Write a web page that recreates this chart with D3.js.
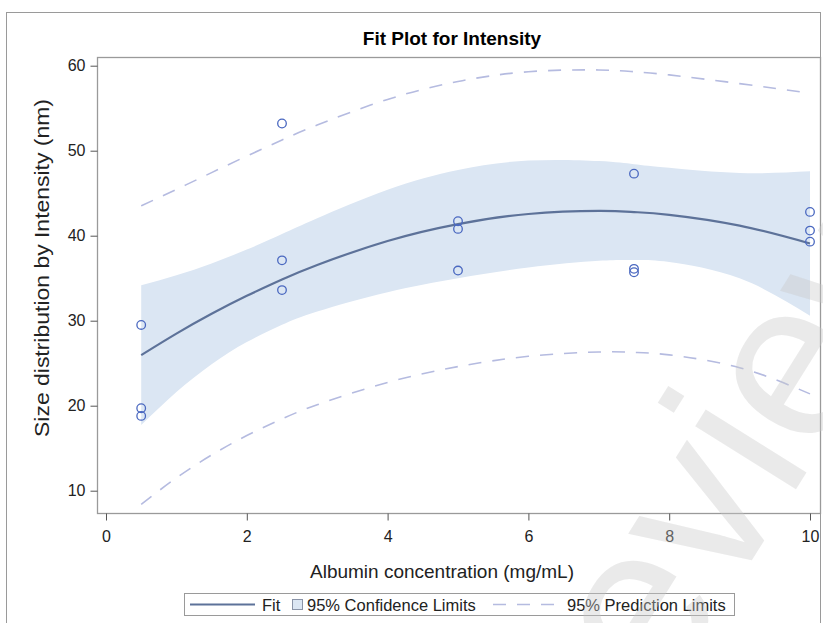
<!DOCTYPE html>
<html><head><meta charset="utf-8">
<script src="https://cdn.jsdelivr.net/npm/d3@7"></script>
<style>body{margin:0;background:#fff}svg{display:block}text{font-family:"Liberation Sans",Arial,sans-serif}</style>
</head><body><svg id="c" width="823" height="623"></svg>
<script>
// observed data
const xObs = [0.5,0.5,0.5,2.5,2.5,2.5,5,5,5,7.5,7.5,7.5,10,10,10];
const yObs = [29.5,19.7,18.8,53.2,37.1,33.6,41.7,40.8,35.9,47.3,36.1,35.7,42.8,40.6,39.3];
// fit and limits
const xGrid   = [0.5,1,1.5,2,2.5,3,4,5,6,7,7.5,8,9,10];
const fit     = [25.95,28.48,30.81,32.93,34.85,36.56,39.38,41.37,42.55,42.91,42.78,42.45,41.18,39.08];
const clLower = [17.72,21.61,24.88,27.49,29.51,31.08,33.35,35.0,36.26,37.05,37.14,36.91,34.98,30.59];
const clUpper = [34.18,35.35,36.74,38.37,40.19,42.05,45.41,47.74,48.84,48.78,48.42,47.99,47.38,47.57];
const plLower = [8.39,11.51,14.2,16.49,18.44,20.11,22.74,24.6,25.81,26.32,26.27,25.98,24.47,21.39];
const plUpper = [43.51,45.45,47.42,49.37,51.26,53.02,56.03,58.14,59.29,59.5,59.29,58.92,57.89,56.77];
const xTicks = [0,2,4,6,8,10];
const yTicks = [10,20,30,40,50,60];
const legendLabels = ["Fit","95% Confidence Limits","95% Prediction Limits"];

const svg = d3.select("#c");
const frame = {l:97, t:57, r:820, b:513};
const x = d3.scaleLinear().domain([0,10]).range([106,810]);
const y = d3.scaleLinear().domain([10,60]).range([490.7,65.7]);

// outer border
svg.append("rect").attr("x",6.5).attr("y",12.5).attr("width",814).attr("height",640)
  .attr("fill","none").attr("stroke","#9a9a9a").attr("stroke-width",1);

svg.append("text").attr("x",452).attr("y",45).attr("text-anchor","middle")
  .attr("font-size",19).attr("font-weight","bold").attr("fill","#000").text("Fit Plot for Intensity");

const idx = d3.range(xGrid.length);
const band = d3.area().x(i=>x(xGrid[i])).y0(i=>y(clLower[i])).y1(i=>y(clUpper[i])).curve(d3.curveNatural);
svg.append("path").attr("d",band(idx)).attr("fill","#dbe6f3");

const line = arr => d3.line().x(i=>x(xGrid[i])).y(i=>y(arr[i])).curve(d3.curveNatural)(idx);
[plLower,plUpper].forEach(a=>svg.append("path").attr("d",line(a)).attr("fill","none")
  .attr("stroke","#b5bbe0").attr("stroke-width",1.6).attr("stroke-dasharray","13,11"));
svg.append("path").attr("d",line(fit)).attr("fill","none").attr("stroke","#5d7299").attr("stroke-width",2.2);

svg.selectAll("circle.o").data(xObs).join("circle").attr("class","o")
  .attr("cx",(d,i)=>x(d)).attr("cy",(d,i)=>y(yObs[i])).attr("r",4.3)
  .attr("fill","none").attr("stroke","#4a68c0").attr("stroke-width",1.3);

// frame
svg.append("rect").attr("x",frame.l+0.5).attr("y",frame.t+0.5)
  .attr("width",frame.r-frame.l).attr("height",frame.b-frame.t)
  .attr("fill","none").attr("stroke","#9a9a9a").attr("stroke-width",1.3);

// axes
const xAxis = svg.append("g").attr("transform",`translate(0,${frame.b+0.5})`)
  .call(d3.axisBottom(x).tickValues(xTicks).tickSize(7).tickPadding(10).tickFormat(d3.format("d")));
const yAxis = svg.append("g").attr("transform",`translate(${frame.l+0.5},0)`)
  .call(d3.axisLeft(y).tickValues(yTicks).tickSize(7).tickPadding(5).tickFormat(d3.format("d")));
[xAxis,yAxis].forEach(g=>{
  g.select(".domain").remove();
  g.selectAll(".tick line").attr("stroke","#555");
  g.selectAll(".tick text").attr("font-size",16).attr("fill","#222")
    .style("font-family","'Liberation Sans',Arial,sans-serif");
});

svg.append("text").attr("x",442).attr("y",578).attr("text-anchor","middle")
  .attr("font-size",19).attr("fill","#222").text("Albumin concentration (mg/mL)");
svg.append("text").attr("transform","translate(49,268) rotate(-90)").attr("text-anchor","middle")
  .attr("font-size",20).attr("fill","#222").attr("textLength",338).attr("lengthAdjust","spacingAndGlyphs")
  .text("Size distribution by Intensity (nm)");

// legend
const lg = svg.append("g");
lg.append("rect").attr("x",184.5).attr("y",593.5).attr("width",550).attr("height",22)
  .attr("fill","#fff").attr("stroke","#9a9a9a");
lg.append("line").attr("x1",190).attr("x2",255).attr("y1",604.5).attr("y2",604.5)
  .attr("stroke","#5d7299").attr("stroke-width",2.2);
lg.append("text").attr("x",262).attr("y",610.5).attr("font-size",16.5).attr("fill","#222").text(legendLabels[0]);
lg.append("rect").attr("x",292.5).attr("y",599.5).attr("width",10).attr("height",10)
  .attr("fill","#dbe6f3").attr("stroke","#8a94a8");
lg.append("text").attr("x",307).attr("y",610.5).attr("font-size",16.5).attr("fill","#222").text(legendLabels[1]);
lg.append("line").attr("x1",493).attr("x2",558).attr("y1",604.5).attr("y2",604.5)
  .attr("stroke","#b5bbe0").attr("stroke-width",1.6).attr("stroke-dasharray","13,11");
lg.append("text").attr("x",567).attr("y",610.5).attr("font-size",16.5).attr("fill","#222").text(legendLabels[2]);

// watermark
svg.append("text").attr("transform","translate(755,555) rotate(-58)").attr("text-anchor","middle")
  .attr("font-size",225).attr("fill","#c8c8c8").attr("fill-opacity",0.38).text("Preview");
</script></body></html>
